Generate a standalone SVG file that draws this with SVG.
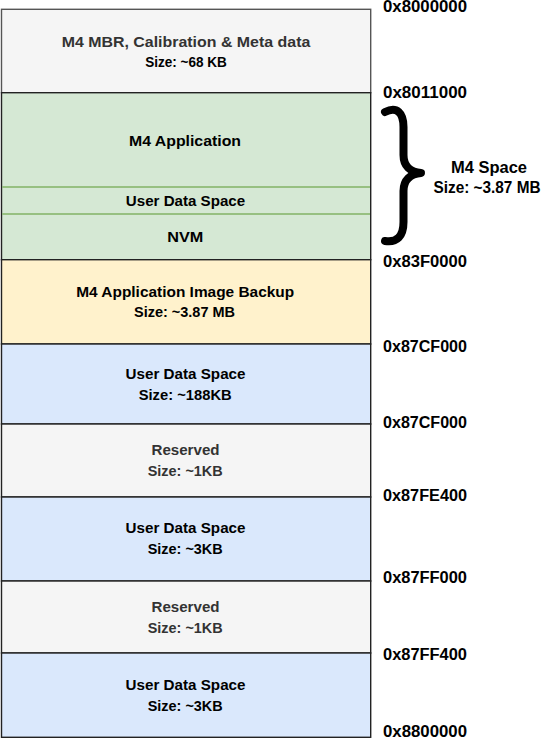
<svg xmlns="http://www.w3.org/2000/svg" width="543" height="739" viewBox="0 0 543 739">
<style>
.t{font-family:"Liberation Sans",Arial,sans-serif;font-weight:bold;font-size:15.5px;text-anchor:middle;fill:#000}
.g{fill:#333333}
.a{font-family:"Liberation Sans",Arial,sans-serif;font-weight:bold;font-size:16px;fill:#000}
.box{stroke:#222;stroke-width:1.4}
.grey{fill:#f5f5f5}
.green{fill:#d5e8d4}
.yellow{fill:#fff2cc}
.blue{fill:#dae8fc}
.sep{stroke:#82b366;stroke-width:1.5}
</style>
<rect width="543" height="739" fill="#ffffff"/>
<g id="mbr">
<rect class="box grey" x="1.5" y="9.3" width="369.2" height="83.4" style="stroke:#555"/>
<text class="t g" x="186" y="46.7" textLength="248.6" lengthAdjust="spacingAndGlyphs">M4 MBR, Calibration &amp; Meta data</text>
<text class="t" x="186" y="66.7" textLength="81.7" lengthAdjust="spacingAndGlyphs">Size: ~68 KB</text>
</g>
<g id="m4space">
<rect class="box green" x="1.5" y="92.7" width="369.2" height="167"/>
<line class="sep" x1="2.2" y1="187" x2="370" y2="187"/>
<line class="sep" x1="2.2" y1="214" x2="370" y2="214"/>
<text class="t" x="185" y="145.7" textLength="112" lengthAdjust="spacingAndGlyphs">M4 Application</text>
<text class="t" x="185.5" y="206" textLength="119.3" lengthAdjust="spacingAndGlyphs">User Data Space</text>
<text class="t" x="185.3" y="241.7" textLength="36" lengthAdjust="spacingAndGlyphs">NVM</text>
</g>
<g id="backup">
<rect class="box yellow" x="1.5" y="259.7" width="369.2" height="84.3"/>
<text class="t" x="185.2" y="296.7" textLength="218" lengthAdjust="spacingAndGlyphs">M4 Application Image Backup</text>
<text class="t" x="184.5" y="317.3" textLength="101" lengthAdjust="spacingAndGlyphs">Size: ~3.87 MB</text>
</g>
<g id="uds188">
<rect class="box blue" x="1.5" y="344" width="369.2" height="80"/>
<text class="t" x="185.5" y="379.3" textLength="120" lengthAdjust="spacingAndGlyphs">User Data Space</text>
<text class="t" x="185.2" y="399.5" textLength="93" lengthAdjust="spacingAndGlyphs">Size: ~188KB</text>
</g>
<g id="reserved1">
<rect class="box grey" x="1.5" y="424" width="369.2" height="73"/>
<text class="t g" x="185.5" y="455" textLength="68" lengthAdjust="spacingAndGlyphs">Reserved</text>
<text class="t g" x="185.2" y="476" textLength="75" lengthAdjust="spacingAndGlyphs">Size: ~1KB</text>
</g>
<g id="uds3a">
<rect class="box blue" x="1.5" y="497" width="369.2" height="84"/>
<text class="t" x="185.5" y="532.7" textLength="120" lengthAdjust="spacingAndGlyphs">User Data Space</text>
<text class="t" x="185.2" y="554" textLength="75" lengthAdjust="spacingAndGlyphs">Size: ~3KB</text>
</g>
<g id="reserved2">
<rect class="box grey" x="1.5" y="581" width="369.2" height="72"/>
<text class="t g" x="185.5" y="611.7" textLength="68" lengthAdjust="spacingAndGlyphs">Reserved</text>
<text class="t g" x="185.2" y="632.7" textLength="75" lengthAdjust="spacingAndGlyphs">Size: ~1KB</text>
</g>
<g id="uds3b">
<rect class="box blue" x="1.5" y="653" width="369.2" height="84.3"/>
<text class="t" x="185.5" y="690" textLength="120" lengthAdjust="spacingAndGlyphs">User Data Space</text>
<text class="t" x="185.2" y="710.7" textLength="75" lengthAdjust="spacingAndGlyphs">Size: ~3KB</text>
</g>
<g id="addresses">
<text class="a" x="383" y="12" textLength="84" lengthAdjust="spacingAndGlyphs">0x8000000</text>
<text class="a" x="383" y="97.7" textLength="84" lengthAdjust="spacingAndGlyphs">0x8011000</text>
<text class="a" x="383" y="266.7" textLength="84" lengthAdjust="spacingAndGlyphs">0x83F0000</text>
<text class="a" x="383" y="351.7" textLength="84" lengthAdjust="spacingAndGlyphs">0x87CF000</text>
<text class="a" x="383" y="428.3" textLength="84" lengthAdjust="spacingAndGlyphs">0x87CF000</text>
<text class="a" x="383" y="500.5" textLength="84" lengthAdjust="spacingAndGlyphs">0x87FE400</text>
<text class="a" x="383" y="582.7" textLength="84" lengthAdjust="spacingAndGlyphs">0x87FF000</text>
<text class="a" x="383" y="660" textLength="84" lengthAdjust="spacingAndGlyphs">0x87FF400</text>
<text class="a" x="383" y="736.7" textLength="84" lengthAdjust="spacingAndGlyphs">0x8800000</text>
</g>
<g id="m4space-label">
<path d="M 385 112 C 397 106, 403.5 113, 403.5 127 L 403.5 155 C 403.5 166, 410 172, 421 173 C 410 174, 403.5 180, 403.5 191 L 403.5 222 C 403.5 236, 397 243, 385 241" fill="none" stroke="#000" stroke-width="8" stroke-linecap="round" stroke-linejoin="round"/>
<text class="a" x="489" y="172.7" text-anchor="middle" textLength="76" lengthAdjust="spacingAndGlyphs">M4 Space</text>
<text class="a" x="487" y="192.7" text-anchor="middle" textLength="107" lengthAdjust="spacingAndGlyphs">Size: ~3.87 MB</text>
</g>
</svg>
